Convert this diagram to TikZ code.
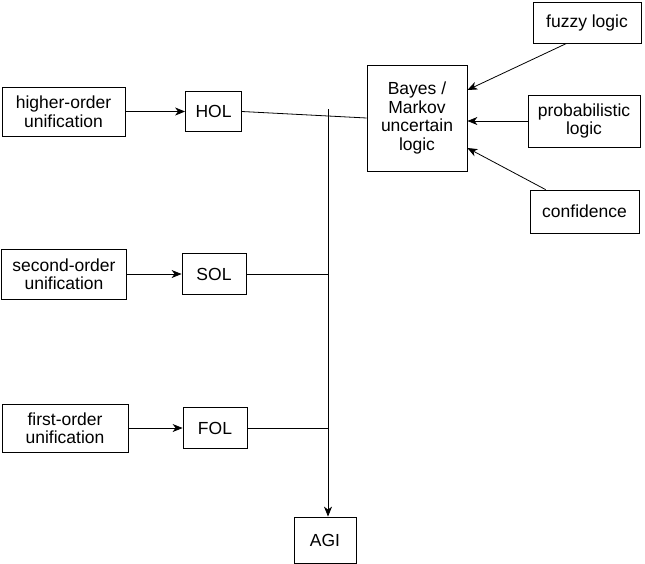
\documentclass[tikz,border=0pt]{standalone}
\usepackage{fontspec}
\setmainfont{Liberation Sans}
\usetikzlibrary{positioning, arrows.meta}
\tikzset{
    >={Stealth[length=10pt, width=8pt, inset=3pt]}, % arrow heads
    node distance=150pt, % horizontal gap between unification and logic boxes
    box/.style={draw, line width=0.8pt, align=center, inner sep=0pt,
        font=\fontsize{17.5}{18.5}\selectfont}, % every box in the diagram
    link/.style={line width=0.8pt}, % connectors
}
\begin{document}
\begin{tikzpicture}[x=1pt, y=-1pt]
        \useasboundingbox (0,0) rectangle (645,563);
        \node[box, minimum width=123pt, minimum height=49pt] (hou) at (63.5,111.5) {higher-order\\unification};
        \node[box, minimum width=56pt, minimum height=40pt, right of=hou] (hol) {HOL};
        \node[box, minimum width=125pt, minimum height=50pt] (sou) at (64,274) {second-order\\unification};
        \node[box, minimum width=64pt, minimum height=41pt, right of=sou] (sol) {SOL};
        \node[box, minimum width=126pt, minimum height=48pt] (fou) at (65,428) {first-order\\unification};
        \node[box, minimum width=64pt, minimum height=41pt, right of=fou] (fol) {FOL};
        \node[box, minimum width=100pt, minimum height=106pt] (bayes) at (417,118) {Bayes /\\Markov\\uncertain\\logic};
        \node[box, minimum width=108pt, minimum height=41pt] (fuzzy) at (587,22.5) {fuzzy logic};
        \node[box, minimum width=112pt, minimum height=52pt] (prob) at (584,121) {probabilistic\\logic};
        \node[box, minimum width=109pt, minimum height=43pt] (conf) at (584.5,211.5) {confidence};
        \node[box, minimum width=62pt, minimum height=46pt] (agi) at (325,540) {AGI};
        \coordinate (jtop) at (328,109);

        \draw[link, ->] (hou) -- (hol);
        \draw[link, ->] (sou) -- (sol);
        \draw[link, ->] (fou) -- (fol);
        \draw[link] (hol.east) -- (bayes.west);
        \draw[link] (sol.east) -- (sol.east -| jtop);
        \draw[link] (fol.east) -- (fol.east -| jtop);
        \draw[link, ->] (jtop) -- (jtop |- agi.north);
        \draw[link, ->] ([xshift=34pt]fuzzy.south west) -- ([yshift=28pt]bayes.east);
        \draw[link, ->] (prob.west) -- (prob.west -| bayes.east);
        \draw[link, ->] ([xshift=16pt]conf.north west) -- ([yshift=-30pt]bayes.east);
    \end{tikzpicture}
\end{document}
